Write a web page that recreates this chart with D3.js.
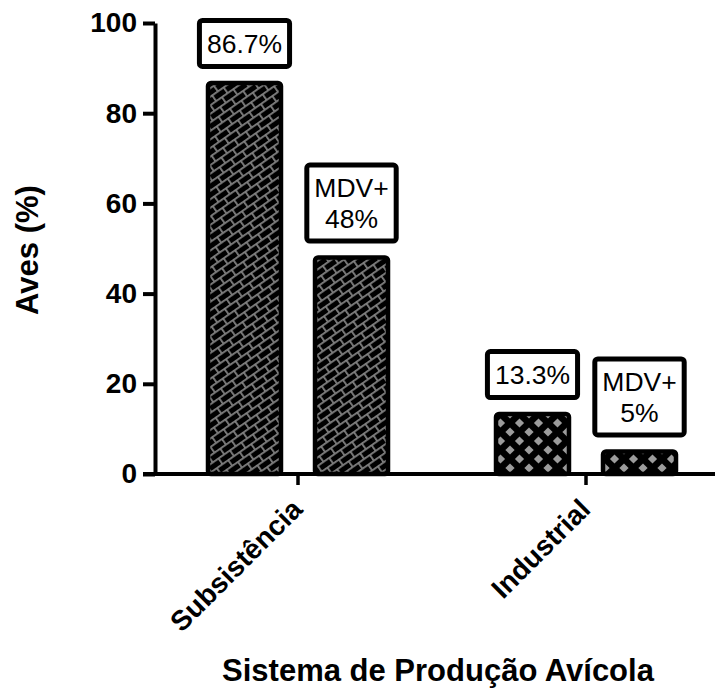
<!DOCTYPE html>
<html>
<head>
<meta charset="utf-8">
<script src="https://cdn.jsdelivr.net/npm/d3@7"></script>
<style>
  html, body { margin: 0; padding: 0; background: #fff; }
  svg { display: block; }
  text { font-family: "Liberation Sans", Arial, sans-serif; fill: #000; }
</style>
</head>
<body>
<svg id="chart" width="725" height="691"></svg>
<script>
// ---- data ----
const categories = ["Subsistência", "Industrial"];
const seriesKeys = ["total", "mdv"];
const totalValues = [86.7, 13.3];
const mdvValues = [48, 5];
const totalLabels = ["86.7%", "13.3%"];
const mdvLabels = [["MDV+", "48%"], ["MDV+", "5%"]];
const yTicks = [0, 20, 40, 60, 80, 100];
const yTitle = "Aves (%)";
const xTitle = "Sistema de Produção Avícola";

const rows = categories.map((c, i) => ({
  cat: c,
  bars: [
    { key: "total", value: totalValues[i], label: [totalLabels[i]] },
    { key: "mdv", value: mdvValues[i], label: mdvLabels[i] }
  ]
}));

const svg = d3.select("#chart");
const axisY0 = 474;

const y = d3.scaleLinear().domain([0, 100]).range([axisY0, 23]);
const x0 = d3.scaleBand().domain(categories).range([154, 730]).padding(0);
const x1 = d3.scaleBand().domain(seriesKeys).range([-90, 90]).paddingInner(0.318).paddingOuter(0);

// ---- patterns ----
const defs = svg.append("defs");
const brick = defs.append("pattern")
  .attr("id", "brick").attr("patternUnits", "userSpaceOnUse")
  .attr("width", 14).attr("height", 14)
  .attr("patternTransform", "rotate(-35)");
brick.append("rect").attr("width", 14).attr("height", 14).attr("fill", "#000");
const bg = "#808080";
brick.append("rect").attr("x", 0).attr("y", 0).attr("width", 14).attr("height", 1.8).attr("fill", bg);
brick.append("rect").attr("x", 0).attr("y", 7).attr("width", 14).attr("height", 1.8).attr("fill", bg);
brick.append("rect").attr("x", 0).attr("y", 0).attr("width", 1.8).attr("height", 7).attr("fill", bg);
brick.append("rect").attr("x", 7).attr("y", 7).attr("width", 1.8).attr("height", 7).attr("fill", bg);

const diamond = defs.append("pattern")
  .attr("id", "diamond").attr("patternUnits", "userSpaceOnUse")
  .attr("width", 19).attr("height", 18);
diamond.append("rect").attr("width", 19).attr("height", 18).attr("fill", "#000");
const dpts = [[0,0],[19,0],[0,18],[19,18],[9.5,9]];
const dh = 4.6;
dpts.forEach(([cx, cy]) => {
  diamond.append("path")
    .attr("d", `M${cx},${cy-dh}L${cx+dh},${cy}L${cx},${cy+dh}L${cx-dh},${cy}Z`)
    .attr("fill", "#9c9c9c");
});
const patternFor = { "Subsistência": "url(#brick)", "Industrial": "url(#diamond)" };

// ---- bars ----
const groups = svg.append("g").selectAll("g").data(rows).join("g")
  .attr("transform", d => `translate(${x0(d.cat) + x0.bandwidth() / 2},0)`);

groups.selectAll("rect.bar").data(d => d.bars.map(b => ({ ...b, cat: d.cat }))).join("rect")
  .attr("class", "bar")
  .attr("x", d => x1(d.key))
  .attr("width", x1.bandwidth())
  .attr("y", d => y(d.value))
  .attr("height", d => axisY0 - y(d.value))
  .attr("rx", 3)
  .attr("fill", d => patternFor[d.cat])
  .attr("stroke", "#000")
  .attr("stroke-width", 4.5);

// ---- label boxes ----
groups.each(function (d) {
  const g = d3.select(this);
  d.bars.forEach(b => {
    const cx = x1(b.key) + x1.bandwidth() / 2;
    const lineH = 31;
    const h = b.label.length === 1 ? 46 : 76;
    const bottom = y(b.value) - 16.5;
    const top = bottom - h;
    const lg = g.append("g");
    const rect = lg.append("rect");
    const t = lg.append("text")
      .attr("text-anchor", "middle")
      .style("font-size", "26.5px");
    b.label.forEach((line, i) => {
      t.append("tspan").attr("x", cx)
        .attr("y", top + (h - lineH * b.label.length) / 2 + lineH * i + lineH * 0.5)
        .attr("dy", "0.36em")
        .text(line);
    });
    const w = t.node().getBBox().width + 15;
    rect.attr("x", cx - w / 2).attr("y", top).attr("width", w).attr("height", h)
      .attr("rx", 3).attr("fill", "#fff").attr("stroke", "#000").attr("stroke-width", 5);
  });
});

// ---- y axis ----
const yAxis = svg.append("g").attr("transform", "translate(155,0)")
  .call(d3.axisLeft(y).tickValues(yTicks).tickSize(12).tickSizeOuter(0).tickPadding(6));
yAxis.select(".domain").attr("stroke-width", 4).attr("stroke", "#000");
yAxis.selectAll(".tick line").attr("stroke-width", 4).attr("stroke", "#000");
yAxis.selectAll(".tick text")
  .style("font-family", '"Liberation Sans", Arial, sans-serif')
  .style("font-size", "28px").style("font-weight", "bold").attr("fill", "#000");

// ---- x axis ----
const xAxis = svg.append("g").attr("transform", `translate(0,${axisY0})`)
  .call(d3.axisBottom(x0).tickSize(11).tickSizeOuter(0).tickFormat(() => ""));
xAxis.select(".domain").remove();
xAxis.selectAll(".tick line").attr("stroke-width", 3.5).attr("stroke", "#000");
svg.append("line").attr("x1", 143).attr("x2", 715).attr("y1", axisY0).attr("y2", axisY0)
  .attr("stroke", "#000").attr("stroke-width", 4);

svg.append("g").selectAll("text").data(categories).join("text")
  .attr("transform", d => `translate(${x0(d) + x0.bandwidth() / 2 + 6},${axisY0 + 37}) rotate(-45)`)
  .attr("text-anchor", "end")
  .style("font-size", "28px").style("font-weight", "bold")
  .text(d => d);

// ---- titles ----
svg.append("text")
  .attr("transform", "translate(38,250) rotate(-90)")
  .attr("text-anchor", "middle")
  .style("font-size", "31px").style("font-weight", "bold")
  .text(yTitle);

svg.append("text")
  .attr("x", 438).attr("y", 681)
  .attr("text-anchor", "middle")
  .style("font-size", "31px").style("font-weight", "bold")
  .text(xTitle);
</script>
</body>
</html>
